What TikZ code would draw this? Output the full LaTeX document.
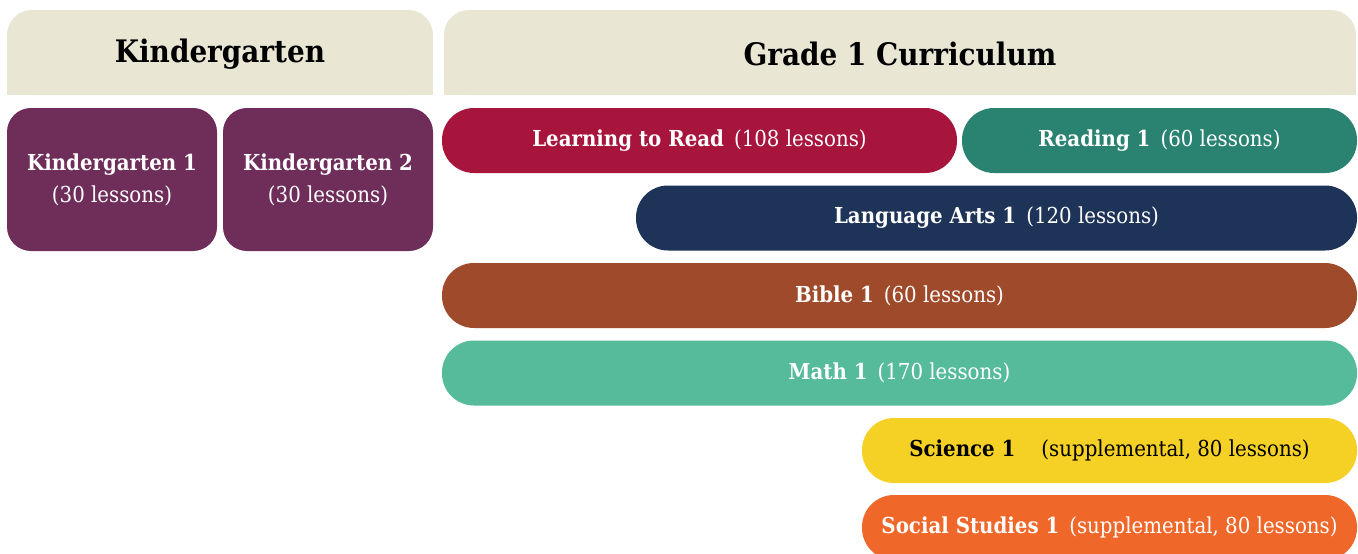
\documentclass[tikz,border=0pt]{standalone}
\usepackage{fontspec}
\setmainfont{DejaVu Serif Condensed}
\usetikzlibrary{positioning}

\definecolor{headbg}{HTML}{E9E6D4}
\definecolor{kpurple}{HTML}{6F2D5A}
\definecolor{readred}{HTML}{A8153C}
\definecolor{readteal}{HTML}{2A8370}
\definecolor{langnavy}{HTML}{1E3358}
\definecolor{biblebrown}{HTML}{9F4A2B}
\definecolor{mathmint}{HTML}{55BB9A}
\definecolor{sciyellow}{HTML}{F5D125}
\definecolor{socorange}{HTML}{F0672A}

\tikzset{
  headtext/.style = {font=\fontsize{31}{36}\selectfont\bfseries, text=black},
  kbox/.style = {fill=kpurple, rounded corners=24pt, minimum width=210pt, minimum height=143pt,
                 inner sep=0pt, text=white, align=center, font=\fontsize{22}{32}\selectfont},
  bar/.style = {rounded corners=32pt, minimum height=65pt, inner sep=0pt,
                text=white, font=\fontsize{22}{26}\selectfont}
}

\begin{document}
\begin{tikzpicture}[x=1pt, y=-1pt]
	\useasboundingbox (0,0) rectangle (1358,554);
	\clip (0,0) rectangle (1358,554);
	% headers
	\fill [headbg, rounded corners=25pt] (7,10) rectangle (433,95);
	\fill [headbg] (7,60) rectangle (433,95);
	\fill [headbg, rounded corners=25pt] (444,10) rectangle (1356,95);
	\fill [headbg] (444,60) rectangle (1356,95);
	\node [headtext] (kghead) at (220,54) {Kindergarten};
	\node [headtext] (gradehead) at (900,54) {Grade 1 Curriculum};
	% kindergarten
	\node [kbox] (kg1) at (112,179.5) {\textbf{Kindergarten 1}\\(30 lessons)};
	\node [kbox] (kg2) at (328,179.5) {\textbf{Kindergarten 2}\\(30 lessons)};
	% grade 1
	\node [bar, fill=readred, minimum width=515pt] (learn) at (699.5,140.5)
		{\textbf{Learning to Read}\hspace{10pt}(108 lessons)};
	\node [bar, fill=readteal, minimum width=395pt] (read) at (1159.5,140.5)
		{\textbf{Reading 1}\hspace{10pt}(60 lessons)};
	\node [bar, fill=langnavy, minimum width=721pt] (lang) at (996.5,218)
		{\textbf{Language Arts 1}\hspace{10pt}(120 lessons)};
	\node [bar, fill=biblebrown, minimum width=915pt] (bible) at (899.5,295.5)
		{\textbf{Bible 1}\hspace{10pt}(60 lessons)};
	\node [bar, fill=mathmint, minimum width=915pt] (math) at (899.5,373)
		{\textbf{Math 1}\hspace{10pt}(170 lessons)};
	\node [bar, fill=sciyellow, text=black, minimum width=495pt] (sci) at (1109.5,450.5)
		{\textbf{Science 1}\hspace{26pt}(supplemental, 80 lessons)};
	\node [bar, fill=socorange, minimum width=495pt] (soc) at (1109.5,527.5)
		{\textbf{Social Studies 1}\hspace{10pt}(supplemental, 80 lessons)};
\end{tikzpicture}
\end{document}
